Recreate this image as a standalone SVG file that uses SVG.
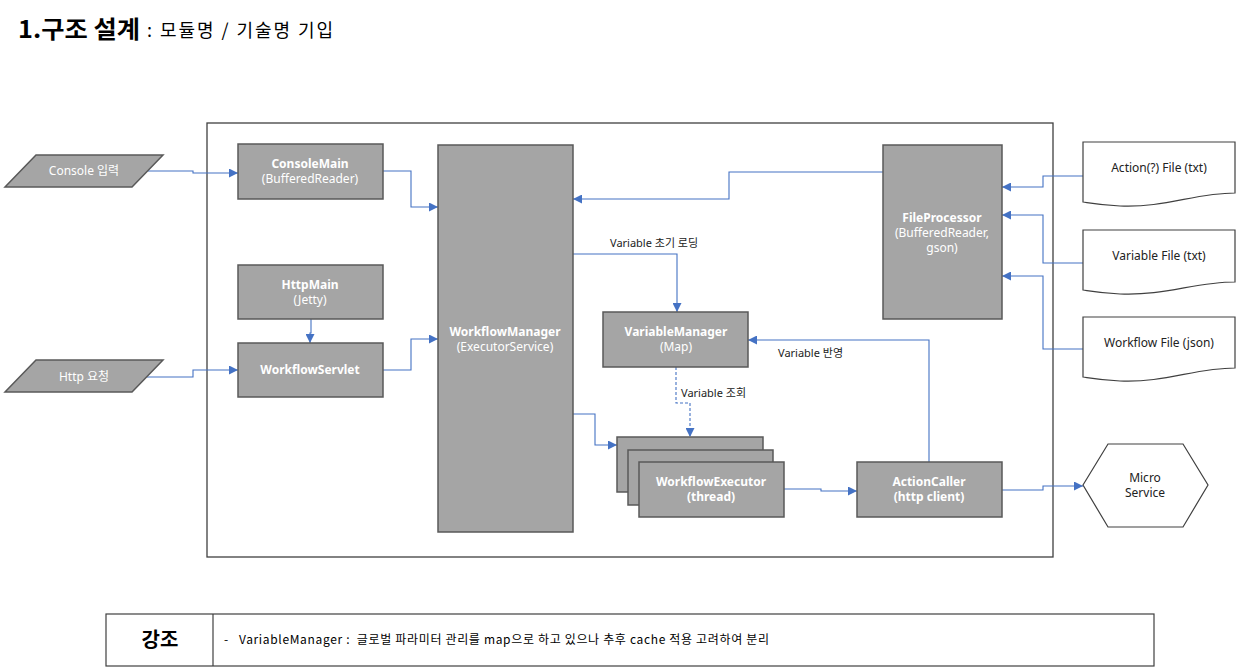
<svg xmlns="http://www.w3.org/2000/svg" width="1239" height="671" viewBox="0 0 1239 671">
<defs>
<style>
.node{fill:#a5a5a5;stroke:#595959;stroke-width:1.5}
.doc{fill:#ffffff;stroke:#404040;stroke-width:1.2}
.t{font-family:"Noto Sans","Noto Sans CJK KR",sans-serif;font-size:12px;fill:#ffffff;text-anchor:middle}
.b{font-weight:bold}
.lbl{font-family:"Noto Sans","Noto Sans CJK KR",sans-serif;font-size:11px;fill:#222222}
.dt{font-family:"Noto Sans","Noto Sans CJK KR",sans-serif;font-size:12px;fill:#222222;text-anchor:middle}
.c{fill:none;stroke:#4472c4;stroke-width:1.1}
.d{stroke-dasharray:3 2}
</style>
<marker id="ah" viewBox="0 0 10 10" refX="10" refY="5" markerWidth="9" markerHeight="9" markerUnits="userSpaceOnUse" orient="auto">
<path d="M0,0 L10,5 L0,10 z" fill="#4472c4"/>
</marker>
</defs>
<rect width="1239" height="671" fill="#ffffff"/>
<g id="title">
<text x="18" y="38" font-family="Noto Sans CJK KR, sans-serif" font-size="24" font-weight="bold" fill="#000" textLength="122" lengthAdjust="spacingAndGlyphs">1.구조 설계</text>
<text x="147" y="37" font-family="Noto Sans CJK KR, sans-serif" font-size="18" fill="#000" textLength="186" lengthAdjust="spacing">: 모듈명 / 기술명 기입</text>
</g>
<g id="frame"><rect x="207" y="123" width="846" height="434" fill="none" stroke="#404040" stroke-width="1.3"/></g>
<g id="connectors">
<polyline class="c" points="148,171 193,171 193,173 238,173" marker-end="url(#ah)"/>
<polyline class="c" points="383,171 411,171 411,207 438,207" marker-end="url(#ah)"/>
<polyline class="c" points="311,319 311,333 310,333 310,343" marker-end="url(#ah)"/>
<polyline class="c" points="147,377 193,377 193,370 238,370" marker-end="url(#ah)"/>
<polyline class="c" points="383,370 411,370 411,339 438,339" marker-end="url(#ah)"/>
<polyline class="c" points="883,172 729,172 729,199 573,199" marker-end="url(#ah)"/>
<polyline class="c" points="573,254 677,254 677,312" marker-end="url(#ah)"/>
<polyline class="c" points="929,462 929,340 748,340" marker-end="url(#ah)"/>
<polyline class="c d" points="676,367 676,403 690,403 690,437" marker-end="url(#ah)"/>
<polyline class="c" points="573,414 595,414 595,445 617,445" marker-end="url(#ah)"/>
<polyline class="c" points="784,489 821,489 821,491 857,491" marker-end="url(#ah)"/>
<polyline class="c" points="1002,490 1043,490 1043,486 1083,486" marker-end="url(#ah)"/>
<polyline class="c" points="1083,176 1043,176 1043,187 1002,187" marker-end="url(#ah)"/>
<polyline class="c" points="1083,263 1043,263 1043,215 1002,215" marker-end="url(#ah)"/>
<polyline class="c" points="1083,349 1043,349 1043,276 1002,276" marker-end="url(#ah)"/>
<text class="lbl" x="610" y="247">Variable 초기 로딩</text>
<text class="lbl" x="778" y="357">Variable 반영</text>
<text class="lbl" x="681" y="397">Variable 조회</text>
</g>
<g id="console-input">
<polygon class="node" points="36,155 163,155 132,187 5,187"/>
<text class="t" x="84" y="175">Console 입력</text>
</g>
<g id="http-input">
<polygon class="node" points="36,360 163,360 132,392 5,392"/>
<text class="t" x="84" y="381">Http 요청</text>
</g>
<g id="ConsoleMain">
<rect class="node" x="238" y="144" width="145" height="55"/>
<text class="t b" x="310" y="168">ConsoleMain</text>
<text class="t" x="310" y="183">(BufferedReader)</text>
</g>
<g id="HttpMain">
<rect class="node" x="238" y="265" width="145" height="54"/>
<text class="t b" x="310" y="289">HttpMain</text>
<text class="t" x="310" y="304">(Jetty)</text>
</g>
<g id="WorkflowServlet">
<rect class="node" x="238" y="343" width="145" height="54"/>
<text class="t b" x="310" y="374">WorkflowServlet</text>
</g>
<g id="WorkflowManager">
<rect class="node" x="438" y="145" width="135" height="387"/>
<text class="t b" x="505" y="336">WorkflowManager</text>
<text class="t" x="505" y="351">(ExecutorService)</text>
</g>
<g id="FileProcessor">
<rect class="node" x="883" y="145" width="119" height="174"/>
<text class="t b" x="942" y="222">FileProcessor</text>
<text class="t" x="942" y="237">(BufferedReader,</text>
<text class="t" x="942" y="252">gson)</text>
</g>
<g id="VariableManager">
<rect class="node" x="603" y="312" width="145" height="55"/>
<text class="t b" x="676" y="336">VariableManager</text>
<text class="t" x="676" y="351">(Map)</text>
</g>
<g id="WorkflowExecutor">
<rect class="node" x="617" y="437" width="146" height="55"/>
<rect class="node" x="628" y="450" width="145" height="55"/>
<rect class="node" x="639" y="462" width="145" height="55"/>
<text class="t b" x="711" y="486">WorkflowExecutor</text>
<text class="t b" x="711" y="501">(thread)</text>
</g>
<g id="ActionCaller">
<rect class="node" x="857" y="462" width="145" height="55"/>
<text class="t b" x="929" y="486">ActionCaller</text>
<text class="t b" x="929" y="501">(http client)</text>
</g>
<g id="ActionFile">
<path class="doc" d="M1083,142 H1235 V193 C1195,193 1165,208 1120,206 C1100,205 1090,203 1083,202 Z"/>
<text class="dt" x="1159" y="172">Action(?) File (txt)</text>
</g>
<g id="VariableFile">
<path class="doc" d="M1083,230 H1235 V282 C1195,282 1165,296 1120,294 C1100,293 1090,291 1083,290 Z"/>
<text class="dt" x="1159" y="260">Variable File (txt)</text>
</g>
<g id="WorkflowFile">
<path class="doc" d="M1083,317 H1235 V368 C1195,368 1165,383 1120,381 C1100,380 1090,378 1083,377 Z"/>
<text class="dt" x="1159" y="347">Workflow File (json)</text>
</g>
<g id="MicroService">
<polygon class="doc" points="1083,485 1108,444 1183,444 1208,485 1183,527 1108,527"/>
<text class="dt" x="1145" y="482">Micro</text>
<text class="dt" x="1145" y="497">Service</text>
</g>
<g id="note">
<rect x="106" y="614" width="1048" height="52" fill="#ffffff" stroke="#404040" stroke-width="1.2"/>
<line x1="213" y1="614" x2="213" y2="666" stroke="#404040" stroke-width="1.2"/>
<text x="160" y="647" font-family="Noto Sans CJK KR, sans-serif" font-size="20" font-weight="bold" text-anchor="middle" fill="#000">강조</text>
<text x="224" y="644" font-family="Noto Sans CJK KR, sans-serif" font-size="12" fill="#000" xml:space="preserve" textLength="545" lengthAdjust="spacing">-   VariableManager :  글로벌 파라미터 관리를 map으로 하고 있으나 추후 cache 적용 고려하여 분리</text>
</g>
</svg>
